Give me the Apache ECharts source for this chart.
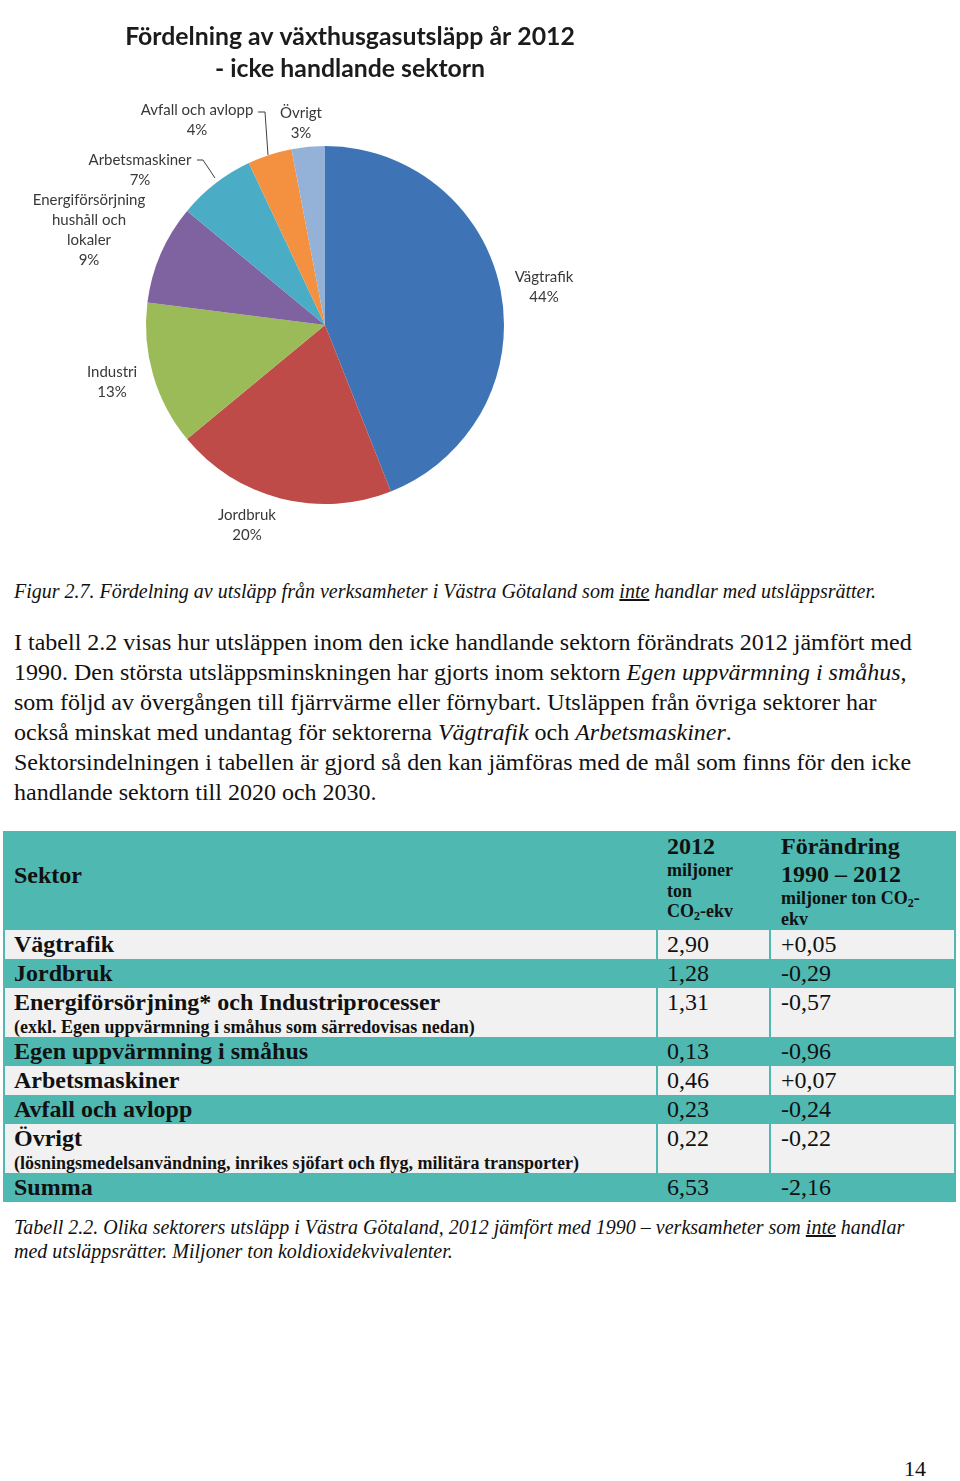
<!DOCTYPE html>
<html>
<head>
<meta charset="utf-8">
<script src="https://cdn.jsdelivr.net/npm/echarts@6/dist/echarts.min.js"></script>
<style>
  body { margin: 0; background: #fff; width: 960px; height: 1481px; position: relative; overflow: hidden;
         font-family: 'Liberation Serif', 'Times New Roman', serif; color: #111; }
  #chart { position: absolute; left: 0; top: 0; width: 960px; height: 560px; }
  .txt { position: absolute; white-space: nowrap; }
  #figcap { left: 14px; top: 579px; font-size: 20px; line-height: 24px; font-style: italic; }
  #para { left: 14px; top: 627px; font-size: 24px; line-height: 30px; }
  #tabcap { left: 14px; top: 1215px; font-size: 20px; line-height: 24px; font-style: italic; }
  #pageno { left: 904px; top: 1456px; font-size: 22px; line-height: 26px; }
  #tbl { position: absolute; left: 3px; top: 831px; width: 953px; display: grid;
         grid-template-columns: 654px 113px 186px; background: #4fb8b1; }
  #tbl .c { box-sizing: border-box; font-size: 24px; line-height: 29px; white-space: nowrap; }
  #tbl .c1 { margin: 0 1px 0 2px; padding-left: 9px; font-weight: bold; }
  #tbl .c2 { margin: 0 1px; padding-left: 9px; }
  #tbl .c3 { margin: 0 2px 0 1px; padding-left: 10px; }
  #tbl .light { background: #f1f1f1; }
  #tbl .note { font-size: 18px; line-height: 20px; }
  #tbl .hd { height: 99px; font-weight: bold; }
  #tbl .big { line-height: 28px; }
  #tbl .small { font-size: 18px; line-height: 20.5px; }
  sub { font-size: 12px; line-height: 0; vertical-align: -3px; }
</style>
</head>
<body>
<div id="chart"></div>
<div id="figcap" class="txt">Figur 2.7. Fördelning av utsläpp från verksamheter i Västra Götaland som <u>inte</u> handlar med utsläppsrätter.</div>
<div id="para" class="txt">I tabell 2.2 visas hur utsläppen inom den icke handlande sektorn förändrats 2012 jämfört med<br>1990. Den största utsläppsminskningen har gjorts inom sektorn <i>Egen uppvärmning i småhus</i>,<br>som följd av övergången till fjärrvärme eller förnybart. Utsläppen från övriga sektorer har<br>också minskat med undantag för sektorerna <i>Vägtrafik</i> och <i>Arbetsmaskiner</i>.<br>Sektorsindelningen i tabellen är gjord så den kan jämföras med de mål som finns för den icke<br>handlande sektorn till 2020 och 2030.</div>
<div id="tbl"></div>
<div id="tabcap" class="txt">Tabell 2.2. Olika sektorers utsläpp i Västra Götaland, 2012 jämfört med 1990 – verksamheter som <u>inte</u> handlar<br>med utsläppsrätter. Miljoner ton koldioxidekvivalenter.</div>
<div id="pageno" class="txt">14</div>
<script>
// cirkeldiagram: andel per sektor (%)
var chartTitle = 'Fördelning av växthusgasutsläpp år 2012\n- icke handlande sektorn';
var pieSectors = ['Vägtrafik', 'Jordbruk', 'Industri', 'Energiförsörjning hushåll och lokaler', 'Arbetsmaskiner', 'Avfall och avlopp', 'Övrigt'];
var pieLabels = ['Vägtrafik', 'Jordbruk', 'Industri', 'Energiförsörjning\nhushåll och\nlokaler', 'Arbetsmaskiner', 'Avfall och avlopp', 'Övrigt'];
var pieShares = [44, 20, 13, 9, 7, 4, 3];

// tabell 2.2
var tableSectors = ['Vägtrafik', 'Jordbruk', 'Energiförsörjning* och Industriprocesser', 'Egen uppvärmning i småhus',
    'Arbetsmaskiner', 'Avfall och avlopp', 'Övrigt', 'Summa'];
var tableNotes = ['', '', '(exkl. Egen uppvärmning i småhus som särredovisas nedan)', '', '', '',
    '(lösningsmedelsanvändning, inrikes sjöfart och flyg, militära transporter)', ''];
var emissions2012 = [2.90, 1.28, 1.31, 0.13, 0.46, 0.23, 0.22, 6.53];
var change1990 = [0.05, -0.29, -0.57, -0.96, 0.07, -0.24, -0.22, -2.16];

var pieColors = ['#3e74b6', '#be4b48', '#9bbb59', '#7f63a1', '#4aacc5', '#f39140', '#94b2d8'];
// etikettplacering (som i originalet)
var labelAnchors = [[544, 287], [247, 525], [112, 382], [89, 230], [140, 170], [197, 120], [301, 123]];
var leaderLines = {
    4: [[197, 160], [203, 160], [215, 178]],
    5: [[258, 112], [265, 112], [268, 155]]
};

function fmtNum(v, signed) {
    var s = Math.abs(v).toFixed(2).replace('.', ',');
    if (signed) s = (v > 0 ? '+' : '-') + s;
    return s;
}

function buildTable() {
    var el = document.getElementById('tbl');
    var html = '';
    html += '<div class="c c1 hd" style="padding-top:30px">Sektor</div>';
    html += '<div class="c c2 hd" style="padding-top:1px"><div class="big">2012</div>' +
        '<div class="small">miljoner<br>ton<br>CO<sub>2</sub>-ekv</div></div>';
    html += '<div class="c c3 hd" style="padding-top:1px"><div class="big">Förändring</div><div class="big">1990 – 2012</div>' +
        '<div class="small">miljoner ton CO<sub>2</sub>-<br>ekv</div></div>';
    for (var i = 0; i < tableSectors.length; i++) {
        var light = (i % 2 === 0) ? ' light' : '';
        var note = tableNotes[i] ? '<div class="note">' + tableNotes[i] + '</div>' : '';
        html += '<div class="c c1' + light + '"><div>' + tableSectors[i] + '</div>' + note + '</div>';
        html += '<div class="c c2' + light + '">' + fmtNum(emissions2012[i], false) + '</div>';
        html += '<div class="c c3' + light + '">' + fmtNum(change1990[i], true) + '</div>';
    }
    el.innerHTML = html;
}
buildTable();

var chart = echarts.init(document.getElementById('chart'));

var pieData = pieSectors.map(function(name, i) {
    return {
        name: name,
        value: pieShares[i],
        itemStyle: { color: pieColors[i] },
        labelLine: { show: !!leaderLines[i] }
    };
});

var option = {
    backgroundColor: '#fff',
    animation: false,
    title: {
        text: chartTitle,
        left: 345,
        top: 16,
        textAlign: 'center',
        textStyle: {
            fontFamily: 'Lato',
            fontWeight: 'bold',
            fontSize: 24.8,
            lineHeight: 32,
            color: '#1b1b1b'
        }
    },
    series: [{
        type: 'pie',
        silent: true,
        center: [325, 325],
        radius: 179,
        startAngle: 90,
        clockwise: true,
        avoidLabelOverlap: false,
        itemStyle: { borderWidth: 0 },
        label: {
            show: true,
            position: 'outside',
            formatter: function(p) { return pieLabels[p.dataIndex] + '\n' + p.value + '%'; },
            fontFamily: 'Lato',
            fontSize: 15,
            lineHeight: 20,
            color: '#383838',
            align: 'center'
        },
        labelLine: {
            show: false,
            smooth: false,
            lineStyle: { color: '#404040', width: 1 }
        },
        labelLayout: function(params) {
            var a = labelAnchors[params.dataIndex];
            var res = { x: a[0], y: a[1], align: 'center', verticalAlign: 'middle' };
            if (leaderLines[params.dataIndex]) res.labelLinePoints = leaderLines[params.dataIndex];
            return res;
        },
        data: pieData
    }]
};

chart.setOption(option);
</script>
</body>
</html>
